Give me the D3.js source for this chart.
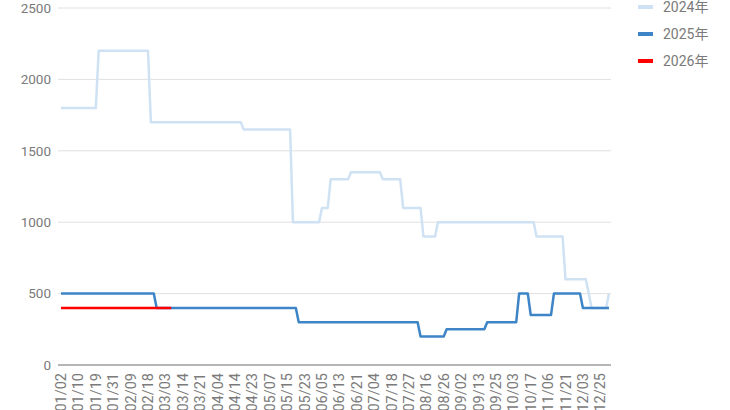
<!DOCTYPE html>
<html>
<head>
<meta charset="utf-8">
<script src="https://cdn.jsdelivr.net/npm/d3@7"></script>
<style>
  body { margin: 0; background: #fff; }
  svg { display: block; font-family: Roboto, "Noto Sans CJK SC", sans-serif; }
</style>
</head>
<body>
<div id="chart"></div>
<script>
// x axis: one point per quote date, a label every LABEL_EVERY points
const tickLabels = ["01/02","01/10","01/19","01/31","02/09","02/18","03/03","03/14","03/21","04/04",
  "04/14","04/23","05/07","05/15","05/23","06/05","06/13","06/21","07/04","07/18","07/27","08/16",
  "08/26","09/02","09/13","09/25","10/03","10/17","11/06","11/21","12/03","12/25"]
const LABEL_EVERY = 6
const N_POINTS = 190

const yTicks = [0, 500, 1000, 1500, 2000, 2500]

// price runs per year: [first point, last point, value]
const runs2024 = [[0,12,1800],[13,30,2200],[31,62,1700],[63,79,1650],[80,89,1000],[90,92,1100],
  [93,99,1300],[100,110,1350],[111,117,1300],[118,124,1100],[125,129,900],[130,163,1000],
  [164,173,900],[174,181,600],[182,182,500],[183,188,400],[189,189,500]]
const runs2025 = [[0,32,500],[33,81,400],[82,123,300],[124,132,200],[133,146,250],[147,157,300],
  [158,161,500],[162,169,350],[170,179,500],[180,189,400]]
const runs2026 = [[0,38,400]]

const seriesNames = ["2024年", "2025年", "2026年"]
const seriesColors = ["#cfe2f3", "#3d85c6", "#ff0000"]
const seriesWidths = [2.5, 2.5, 2.5]

const W = 730, H = 410
const svg = d3.select("#chart").append("svg")
    .attr("width", W)
    .attr("height", H)

const x = d3.scaleLinear().domain([0, N_POINTS - 1]).range([61, 609])
const y = d3.scaleLinear().domain([0, 2500]).range([365, 8])

// gridlines
svg.append("g")
  .selectAll("line")
  .data(yTicks.filter(d => d > 0))
  .join("line")
    .attr("x1", 58).attr("x2", 611)
    .attr("y1", d => y(d)).attr("y2", d => y(d))
    .attr("stroke", "#e0e0e0")
    .attr("stroke-width", 1)

// y labels
svg.append("g")
  .selectAll("text")
  .data(yTicks)
  .join("text")
    .attr("x", 51)
    .attr("y", d => y(d))
    .attr("dy", "0.35em")
    .attr("text-anchor", "end")
    .attr("font-size", 13.5)
    .attr("fill", "#7a7a7a")
    .text(d => d)

// x labels, rotated
svg.append("g")
  .selectAll("text")
  .data(tickLabels)
  .join("text")
    .attr("transform", (d, i) => `translate(${x(i * LABEL_EVERY)},373) rotate(-90)`)
    .attr("dy", "0.35em")
    .attr("text-anchor", "end")
    .attr("font-size", 14.5)
    .attr("fill", "#7a7a7a")
    .text(d => d)

// expand runs into points
const expand = runs => runs.flatMap(([a, b, v]) => d3.range(a, b + 1).map(i => ({i, v})))
const series = [runs2024, runs2025, runs2026].map(expand)

const line = d3.line()
    .x(d => x(d.i))
    .y(d => y(d.v))

svg.append("g")
  .selectAll("path")
  .data(series)
  .join("path")
    .attr("fill", "none")
    .attr("stroke", (d, k) => seriesColors[k])
    .attr("stroke-width", (d, k) => seriesWidths[k])
    .attr("stroke-linejoin", "round")
    .attr("d", line)

// baseline at 0
svg.append("line")
    .attr("x1", 58).attr("x2", 611)
    .attr("y1", y(0)).attr("y2", y(0))
    .attr("stroke", "#9e9e9e")
    .attr("stroke-width", 1.5)

// legend
const legend = svg.append("g")
  .selectAll("g")
  .data(seriesNames)
  .join("g")
    .attr("transform", (d, k) => `translate(638,${7 + k * 27})`)

legend.append("line")
    .attr("x1", 0).attr("x2", 15)
    .attr("stroke", (d, k) => seriesColors[k])
    .attr("stroke-width", 4)

legend.append("text")
    .attr("x", 25)
    .attr("dy", "0.35em")
    .attr("font-size", 14)
    .attr("fill", "#7a7a7a")
    .text(d => d)
</script>
</body>
</html>
